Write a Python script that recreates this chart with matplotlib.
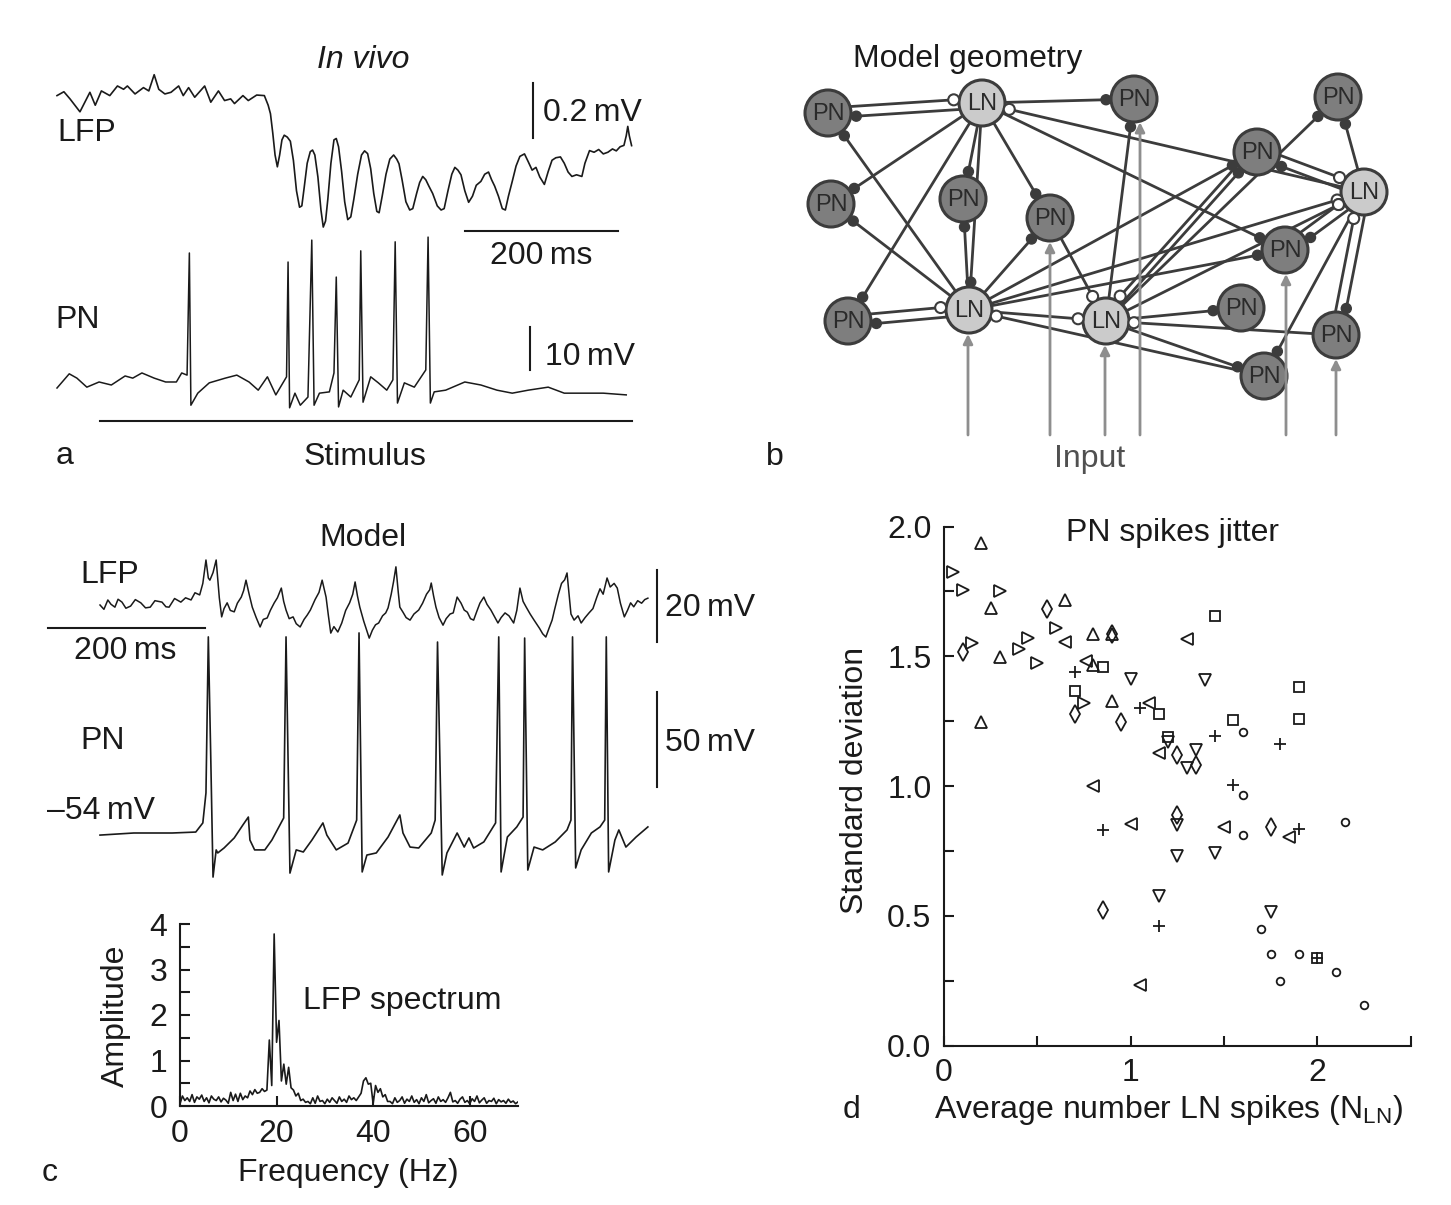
import numpy as np
import matplotlib
matplotlib.use("Agg")
import matplotlib.pyplot as plt
from matplotlib.patches import Circle

plt.rcParams["font.family"] = ["Liberation Sans", "DejaVu Sans"]
plt.rcParams["mathtext.fontset"] = "custom"
plt.rcParams["mathtext.rm"] = "Liberation Sans"
plt.rcParams["mathtext.it"] = "Liberation Sans:italic"

W, H = 1451, 1205
FS = 23
INK = "#1a1a1a"

# ---------------- panel a: in vivo traces (ms, mV)
vivo_lfp = [(0, 0.016), (9, 0.030), (17, 0.004), (30, -0.043), (43, 0.028), (50, -0.019),
            (58, 0.033), (69, 0.016), (79, 0.051), (87, 0.039), (92, 0.051), (102, 0.022),
            (113, 0.045), (120, 0.033), (127, 0.092), (133, 0.039), (141, 0.022), (149, 0.028),
            (159, 0.051), (165, 0.016), (172, 0.045), (180, 0.010), (193, 0.051), (201, -0.008),
            (211, 0.033), (219, -0.002), (227, 0.004), (232, -0.013), (243, 0.016), (250, -0.002),
            (261, 0.018), (271, 0.016), (276, -0.019), (279, -0.050), (282, -0.120), (285, -0.200),
            (288, -0.243), (291, -0.200), (294, -0.145), (297, -0.128), (301, -0.135), (305, -0.150),
            (309, -0.220), (313, -0.330), (317, -0.390), (320, -0.385), (323, -0.320), (327, -0.230),
            (331, -0.188), (334, -0.182), (337, -0.200), (341, -0.280), (345, -0.400), (348, -0.462),
            (351, -0.440), (354, -0.360), (358, -0.230), (362, -0.145), (365, -0.140), (368, -0.170),
            (372, -0.260), (376, -0.370), (380, -0.435), (384, -0.425), (388, -0.360), (393, -0.270),
            (398, -0.200), (402, -0.185), (406, -0.195), (410, -0.250), (414, -0.340), (418, -0.405),
            (421, -0.410), (425, -0.350), (430, -0.270), (435, -0.215), (440, -0.200), (444, -0.215),
            (447, -0.232), (451, -0.290), (456, -0.370), (461, -0.400), (465, -0.395), (470, -0.340),
            (474, -0.300), (478, -0.278), (482, -0.290), (486, -0.313), (491, -0.340), (497, -0.385),
            (502, -0.400), (506, -0.395), (511, -0.330), (516, -0.270), (520, -0.245), (524, -0.255),
            (528, -0.272), (533, -0.330), (538, -0.372), (543, -0.350), (548, -0.310), (554, -0.296),
            (559, -0.270), (564, -0.262), (568, -0.290), (572, -0.313), (577, -0.350), (582, -0.395),
            (586, -0.400), (590, -0.350), (595, -0.296), (600, -0.240), (605, -0.205), (611, -0.196),
            (616, -0.225), (621, -0.255), (626, -0.245), (631, -0.280), (637, -0.307), (642, -0.260),
            (647, -0.219), (652, -0.210), (658, -0.207), (663, -0.230), (668, -0.262), (673, -0.278),
            (679, -0.272), (686, -0.278), (690, -0.230), (696, -0.184), (702, -0.190), (708, -0.180),
            (714, -0.196), (720, -0.190), (726, -0.178), (731, -0.185), (736, -0.170), (741, -0.165),
            (744, -0.130), (746, -0.096), (748, -0.130), (751, -0.166)]

vivo_pn_t = [0, 16, 26, 39, 55, 71, 89, 99, 111, 127,
             142, 156, 163, 170, 173, 175, 184, 199, 220, 235,
             251, 263, 275, 286, 300, 302, 304, 311, 318, 328,
             333, 336, 343, 356, 362, 365, 368, 374, 384, 395,
             397, 400, 410, 420, 431, 439, 442, 445, 454, 467,
             482, 485, 488, 493, 508, 533, 554, 575, 595, 616,
             642, 663, 688, 714, 744]
vivo_pn_v = [-0.7, 2.6, 1.6, -0.5, 0.7, 0, 2.1, 1.6, 2.8, 1.6,
             0.7, 0.7, 2.8, 2.3, 30.7, -4.7, -1.9, 0.5, 1.6, 2.3,
             0.7, -1.2, 1.9, -2.3, 1.9, 28.6, -5.3, -1.9, -4.7, -2.8,
             33.7, -4.7, -1.9, -1.6, 2.8, 25.1, -5.1, -1.2, -2.8, 1.2,
             31.2, -4.0, 1.9, 0.5, -1.2, 1.2, 33.3, -4.2, 0.5, -0.5,
             3.5, 34.4, -4.2, -1.6, -1.2, 0.7, 0, -1.2, -1.9, -1.2,
             -0.5, -1.9, -1.9, -1.9, -2.3]
stimulus_ms = [56, 752]

# ---------------- panel c: model traces (ms, mV)
model_lfp = [(0, 0), (5, -1.2), (10, 1.4), (14, 0.2), (19, -0.6), (23, 1.6), (28, 0.8),
             (33, -0.9), (39, -0.3), (45, 1.5), (52, 0.6), (58, -0.8), (64, -0.6), (70, 1.2),
             (79, 0.8), (84, -0.5), (88, -0.6), (95, 1.8), (103, 0.8), (109, 2.0), (116, 1.4),
             (121, 3.4), (127, 2.8), (131, 6.0), (135, 12.5), (138, 7.5), (140, 6.9), (144, 9.0),
             (148, 12.5), (152, 2.0), (155, -3.3), (158, -1.0), (162, 0.6), (166, -1.5),
             (171, -1.9), (175, 0.5), (180, 2.2), (183, 4.0), (186, 6.9), (190, 3.0), (194, -0.6),
             (199, -3.5), (204, -6.1), (208, -4.0), (213, -3.6), (217, -1.5), (222, 0.6),
             (226, 2.0), (231, 4.7), (234, 1.0), (237, -1.4), (241, -3.8), (246, -3.3),
             (250, -5.2), (255, -6.1), (260, -4.0), (264, -2.8), (268, -1.4), (274, 1.5),
             (279, 3.5), (283, 6.9), (288, 2.2), (291, -3.0), (294, -7.8), (298, -6.0),
             (303, -7.5), (308, -5.0), (313, -1.5), (318, 0.6), (322, 3.0), (325, 6.4),
             (328, 2.5), (331, -0.6), (336, -4.5), (343, -9.2), (347, -7.0), (351, -5.5),
             (355, -5.0), (360, -3.0), (364, -2.2), (367, -0.8), (371, 3.0), (374, 6.5),
             (377, 10.6), (380, 3.5), (382, -0.6), (386, -2.0), (390, -3.5), (395, -4.2),
             (400, -2.5), (406, -1.4), (411, 0.5), (416, 3.0), (420, 4.2), (422, 6.1),
             (425, 2.5), (428, -0.6), (432, -3.5), (437, -5.6), (441, -3.8), (446, -2.5),
             (450, -2.2), (453, 0.5), (455, 2.2), (460, 0.5), (464, -1.4), (468, -2.0),
             (472, -3.8), (476, -4.2), (480, -1.8), (484, 0.5), (489, 2.2), (493, 0.2),
             (498, -1.4), (502, -3.0), (507, -5.0), (511, -3.5), (516, -2.2), (521, -3.0),
             (527, -5.0), (531, -1.5), (535, 4.7), (539, 1.0), (543, -0.6), (548, -2.5),
             (553, -4.2), (560, -6.5), (564, -8.0), (568, -8.9), (572, -6.5), (576, -4.2),
             (579, -1.4), (584, 3.0), (588, 6.0), (592, 7.0), (595, 8.9), (598, 2.0),
             (600, -2.5), (604, -4.2), (609, -3.0), (613, -5.0), (618, -3.5), (623, -2.2),
             (628, -1.0), (633, 2.2), (637, 4.5), (641, 3.0), (646, 7.5), (650, 5.0),
             (655, 6.0), (659, 4.7), (663, 0.5), (668, -3.3), (672, -1.5), (676, 0.6),
             (680, -0.5), (685, 1.2), (690, 0.5), (694, 1.5), (698, 1.9)]

model_pn_t = [0, 43, 92, 122, 131, 135, 138, 141, 144, 148,
              150, 158, 171, 182, 189, 191, 197, 210, 219, 234,
              237, 242, 250, 259, 270, 284, 289, 301, 316, 327,
              330, 334, 340, 352, 367, 382, 386, 395, 406, 422,
              427, 430, 436, 442, 455, 464, 470, 476, 489, 504,
              508, 511, 519, 531, 539, 541, 545, 553, 564, 580,
              595, 600, 602, 606, 613, 626, 637, 643, 645, 648,
              656, 661, 670, 683, 698]
model_pn_v = [-55.1, -54, -54, -53.5, -48.7, -32.9, 49.2, -11.9, -77.2, -62.9,
              -64.5, -61.9, -56.6, -49.8, -45.6, -57.7, -62.9, -62.9, -57.7, -46.1,
              49.2, -75.1, -62.9, -64, -57.7, -48.7, -55.1, -62.9, -59.3, -47.2,
              51.3, -74.5, -65.6, -64.5, -56.1, -44.5, -54, -61.4, -61.9, -54,
              -47.2, 46.5, -76.1, -64.5, -54, -61.4, -56.6, -61.9, -58.7, -48.7,
              49.2, -74.5, -56.1, -50.8, -45.6, 48.6, -73.5, -61.4, -62.9, -58.7,
              -52.4, -47.2, 49.2, -72.4, -62.9, -54, -50.8, -47.2, 49.2, -74.5,
              -57.7, -52.4, -61.4, -56.1, -50.8]

# LFP spectrum, 0.5 Hz bins from 0 to 70 Hz
spec_amp = ([0.05, 0.22, 0.12, 0.18, 0.10, 0.25, 0.08, 0.20, 0.15, 0.24, 0.10,
             0.18, 0.07, 0.22, 0.15, 0.12, 0.20, 0.09, 0.17, 0.13, 0.06]
            + [0.30, 0.12, 0.26, 0.10, 0.28, 0.14, 0.22, 0.18, 0.33, 0.25,
               0.36, 0.28, 0.30, 0.38, 0.32, 0.35]
            + [1.45, 0.45, 3.78, 1.40, 1.88, 0.55, 0.92, 0.48, 0.85, 0.40,
               0.35, 0.22, 0.28, 0.12, 0.15]
            + [0.08, 0.10, 0.05, 0.18, 0.06, 0.22, 0.10, 0.12, 0.05, 0.15, 0.08, 0.18,
               0.12, 0.06, 0.20, 0.10, 0.15, 0.08, 0.22, 0.14, 0.18, 0.12, 0.20, 0.28]
            + [0.55, 0.62, 0.48, 0.50, 0.05, 0.45, 0.30, 0.38, 0.20, 0.25, 0.10]
            + [0.10, 0.05, 0.18, 0.08, 0.12, 0.20, 0.06, 0.15, 0.10, 0.22,
               0.08, 0.14, 0.05, 0.18, 0.10, 0.25, 0.07, 0.12, 0.16, 0.06,
               0.20, 0.10, 0.14, 0.08, 0.18, 0.30, 0.09, 0.12, 0.06, 0.15,
               0.20, 0.08, 0.12, 0.05, 0.16, 0.10, 0.22, 0.07, 0.13, 0.18,
               0.06, 0.12, 0.10, 0.17, 0.05, 0.14, 0.09, 0.12, 0.06, 0.15,
               0.08, 0.11, 0.05, 0.09])
spec_freq = np.linspace(0, 70, len(spec_amp))

# ---------------- panel d: jitter vs LN spikes, one list pair per marker
up_x = [0.20, 0.25, 0.65, 0.80, 0.90, 0.30, 0.80, 0.90, 0.20]
up_y = [1.935, 1.685, 1.717, 1.585, 1.585, 1.498, 1.466, 1.329, 1.248]
right_x = [0.05, 0.10, 0.30, 0.60, 0.45, 0.15, 0.40, 0.50, 0.75]
right_y = [1.826, 1.755, 1.753, 1.610, 1.572, 1.552, 1.527, 1.475, 1.319]
left_x = [0.65, 1.30, 0.76, 1.10, 1.15, 0.80, 1.00, 1.50, 1.85, 1.05]
left_y = [1.556, 1.567, 1.483, 1.321, 1.129, 1.000, 0.854, 0.844, 0.803, 0.233]
down_x = [1.00, 1.40, 1.20, 1.35, 1.30, 1.25, 1.25, 1.45, 1.15, 1.75]
down_y = [1.411, 1.409, 1.171, 1.139, 1.069, 0.850, 0.731, 0.744, 0.578, 0.516]
diam_x = [0.55, 0.90, 0.10, 0.70, 0.95, 1.25, 1.35, 1.25, 1.75, 0.85]
diam_y = [1.682, 1.585, 1.518, 1.278, 1.247, 1.119, 1.081, 0.889, 0.841, 0.523]
sq_x = [1.45, 0.85, 1.90, 0.70, 1.15, 1.55, 1.90, 1.20, 2.00]
sq_y = [1.655, 1.460, 1.381, 1.365, 1.277, 1.255, 1.257, 1.188, 0.338]
plus_x = [0.70, 1.05, 1.45, 1.80, 1.55, 0.85, 1.90, 1.15, 2.00]
plus_y = [1.441, 1.302, 1.194, 1.161, 1.004, 0.831, 0.834, 0.461, 0.338]
circ_x = [1.60, 1.60, 1.60, 2.15, 1.70, 1.75, 1.90, 2.10, 1.80, 2.25]
circ_y = [1.207, 0.966, 0.812, 0.861, 0.448, 0.352, 0.353, 0.284, 0.248, 0.156]

# ---------------- panel b: network layout (panel units, y down)
node_x = [48, 202, 354, 558, 477, 584, 51, 183, 270, 505, 189, 326, 461, 556, 68, 484]
node_y = [73, 63, 59, 57, 112, 152, 164, 159, 178, 210, 270, 281, 268, 295, 281, 336]
node_kind = ["PN", "LN", "PN", "PN", "PN", "LN", "PN", "PN",
             "PN", "PN", "LN", "LN", "PN", "PN", "PN", "PN"]
# (source, target, synapse drawn at target: e=filled / i=open, side offset)
edges = [(0, 1, "i", -5), (1, 0, "e", 5), (1, 2, "e", 0), (10, 0, "e", 0),
         (1, 6, "e", 0), (10, 6, "e", 0), (1, 14, "e", 0), (1, 7, "e", 0),
         (10, 7, "e", 0), (1, 10, "e", 0), (1, 8, "e", 0), (5, 1, "i", 0),
         (1, 9, "e", 0), (10, 8, "e", 0), (8, 11, "i", 0), (11, 2, "e", 0),
         (14, 10, "i", 5), (10, 14, "e", -5), (10, 11, "i", 0), (10, 4, "e", 0),
         (10, 9, "e", 0), (10, 5, "i", 0), (15, 10, "i", 0), (11, 4, "e", 0),
         (4, 11, "i", 6), (11, 3, "e", 0), (11, 5, "i", 0), (11, 12, "e", 0),
         (13, 11, "i", 0), (11, 15, "e", 0), (4, 5, "i", -5), (5, 4, "e", 5),
         (5, 3, "e", 0), (5, 9, "e", -5), (9, 5, "i", 5), (5, 13, "e", -5),
         (13, 5, "i", 5), (5, 15, "e", 0)]
input_nodes = [10, 8, 11, 2, 9, 13]
input_x = [188, 270, 325, 360, 506, 556]

fig = plt.figure(figsize=(W / 100, H / 100), dpi=100)


def box(x0, y0, x1, y1):
    ax = fig.add_axes([x0 / W, 1 - y1 / H, (x1 - x0) / W, (y1 - y0) / H])
    ax.patch.set_visible(False)
    return ax


def ftext(px, py, s, ha="left", **kw):
    kw.setdefault("fontsize", FS)
    kw.setdefault("va", "baseline")
    kw.setdefault("color", INK)
    fig.text(px / W, 1 - py / H, s, ha=ha, **kw)


# ---- panel a
a_ms = lambda px: (px - 57) * 1.307
a_lfp = lambda py: (100 - py) / 275
a_pn = lambda py: (385 - py) / 4.3

vivo_lfp_t, vivo_lfp_v = zip(*vivo_lfp)
ax_al = box(40, 40, 660, 250)
ax_al.set_xlim(a_ms(40), a_ms(660))
ax_al.set_ylim(a_lfp(250), a_lfp(40))
ax_al.axis("off")
ax_al.plot(vivo_lfp_t, vivo_lfp_v, color=INK, lw=1.2)
ax_al.plot([622, 622], [0.062, 0.062 - 0.2], color=INK, lw=1.5)
ax_al.plot([533, 533 + 200], [-0.476, -0.476], color=INK, lw=1.5)

ax_ap = box(40, 220, 660, 440)
ax_ap.set_xlim(a_ms(40), a_ms(660))
ax_ap.set_ylim(a_pn(440), a_pn(220))
ax_ap.axis("off")
ax_ap.plot(vivo_pn_t, vivo_pn_v, color=INK, lw=1.1)
ax_ap.plot([618, 618], [13.5, 3.5], color=INK, lw=1.5)
ax_ap.plot(stimulus_ms, [-8.4, -8.4], color=INK, lw=1.5)

ftext(363, 68, "In vivo", ha="center", fontstyle="italic")
ftext(57, 141, "LFP")
ftext(543, 121, "0.2\u2009mV")
ftext(541, 264, "200\u2009ms", ha="center")
ftext(55, 328, "PN")
ftext(545, 365, "10\u2009mV")
ftext(365, 465, "Stimulus", ha="center")
ftext(65, 464, "a", ha="center")

# ---- panel b
ax_b = box(780, 40, 1450, 470)
ax_b.set_xlim(0, 670)
ax_b.set_ylim(430, 0)
ax_b.axis("off")
R = 23
LINE = "#3c3c3c"
nx = np.array(node_x, float)
ny = np.array(node_y, float)
for a, b, syn, off in edges:
    i, j = min(a, b), max(a, b)
    d = np.array([nx[j] - nx[i], ny[j] - ny[i]])
    d /= np.hypot(*d)
    perp = np.array([-d[1], d[0]]) * off
    u = np.array([nx[b] - nx[a], ny[b] - ny[a]])
    u /= np.hypot(*u)
    p0 = np.array([nx[a], ny[a]]) + perp + u * R
    p1 = np.array([nx[b], ny[b]]) + perp - u * (R + 5)
    ax_b.plot([p0[0], p1[0]], [p0[1], p1[1]], color=LINE, lw=2.0, zorder=1,
              solid_capstyle="round")
    if syn == "e":
        ax_b.add_patch(Circle(p1, 5, fc=LINE, ec=LINE, lw=1, zorder=3))
    else:
        ax_b.add_patch(Circle(p1, 5.5, fc="white", ec=LINE, lw=1.5, zorder=3))
for k, kind in enumerate(node_kind):
    fc = "#7e7e7e" if kind == "PN" else "#cbcbcb"
    ax_b.add_patch(Circle((nx[k], ny[k]), R, fc=fc, ec="#3c3c3c", lw=2.2, zorder=2))
    ax_b.text(nx[k], ny[k] + 1, kind, ha="center", va="center", fontsize=17,
              color="#2a2a2a", zorder=4)
for k, x in zip(input_nodes, input_x):
    tip = ny[k] + np.sqrt(max(R ** 2 - (x - nx[k]) ** 2, 0)) + 1
    ax_b.annotate("", xy=(x, tip), xytext=(x, 395),
                  arrowprops=dict(arrowstyle="-|>", color="#8e8e8e", lw=2.0,
                                  mutation_scale=14, shrinkA=0, shrinkB=0), zorder=5)
ftext(968, 67, "Model geometry", ha="center")
ftext(1090, 467, "Input", ha="center", color="#505050")
ftext(775, 465, "b", ha="center")

# ---- panel c traces
c_ms = lambda px: (px - 100) * 1.274
c_lfp = lambda py: (605 - py) / 3.6
c_pn = lambda py: -54 + (833 - py) / 1.9

model_lfp_t, model_lfp_v = zip(*model_lfp)
ax_cl = box(40, 530, 720, 660)
ax_cl.set_xlim(c_ms(40), c_ms(720))
ax_cl.set_ylim(c_lfp(660), c_lfp(530))
ax_cl.axis("off")
ax_cl.plot(model_lfp_t, model_lfp_v, color=INK, lw=1.1)
ax_cl.plot([-66, -66 + 200], [-6.4, -6.4], color=INK, lw=1.5)
ax_cl.plot([710, 710], [9.7, 9.7 - 20], color=INK, lw=1.5)

ax_cp = box(40, 620, 720, 900)
ax_cp.set_xlim(c_ms(40), c_ms(720))
ax_cp.set_ylim(c_pn(900), c_pn(620))
ax_cp.axis("off")
ax_cp.plot(model_pn_t, model_pn_v, color=INK, lw=1.2)
ax_cp.plot([710, 710], [20, 20 - 50], color=INK, lw=1.5)

ftext(363, 546, "Model", ha="center")
ftext(80, 583, "LFP")
ftext(125, 659, "200\u2009ms", ha="center")
ftext(665, 616, "20\u2009mV")
ftext(80, 749, "PN")
ftext(665, 751, "50\u2009mV")
ftext(47, 819, "\u201354\u2009mV")

# ---- panel c spectrum
ax_s = box(180, 924, 518, 1106)
ax_s.plot(spec_freq, spec_amp, color=INK, lw=1.2)
ax_s.set_xlim(0, 70)
ax_s.set_ylim(0, 4)
ax_s.set_xticks([0, 20, 40, 60])
ax_s.set_yticks([0, 1, 2, 3, 4])
ax_s.set_yticks([0.5, 1.5, 2.5, 3.5], minor=True)
for sp in ("top", "right"):
    ax_s.spines[sp].set_visible(False)
for sp in ("left", "bottom"):
    ax_s.spines[sp].set_linewidth(1.5)
    ax_s.spines[sp].set_color(INK)
ax_s.tick_params(which="both", direction="in", length=7, width=1.5,
                 labelsize=FS, colors=INK, pad=9)
ftext(303, 1009, "LFP spectrum")
fig.text(116 / W, 1 - 1016 / H, "Amplitude", rotation=90, ha="center",
         va="center", fontsize=FS, color=INK)
ftext(348, 1181, "Frequency (Hz)", ha="center")
ftext(50, 1181, "c", ha="center")

# ---- panel d
ax_d = box(944, 526.5, 1410.5, 1045.7)
marker_sets = [("^", up_x, up_y, 8), (">", right_x, right_y, 8),
               ("<", left_x, left_y, 8), ("v", down_x, down_y, 8),
               ("d", diam_x, diam_y, 9), ("s", sq_x, sq_y, 6.5),
               ("+", plus_x, plus_y, 8), ("o", circ_x, circ_y, 5.5)]
for m, xs, ys, ms in marker_sets:
    ax_d.plot(xs, ys, linestyle="none", marker=m, ms=ms, mfc="none",
              mec=INK, mew=1.3)
ax_d.set_xlim(0, 2.5)
ax_d.set_ylim(0, 2.0)
ax_d.set_xticks([0, 1, 2])
ax_d.set_xticks([0.5, 1.5, 2.5], minor=True)
ax_d.set_yticks([0, 0.5, 1.0, 1.5, 2.0])
ax_d.set_yticklabels(["0.0", "0.5", "1.0", "1.5", "2.0"])
ax_d.set_yticks([0.25, 0.75, 1.25, 1.75], minor=True)
for sp in ("top", "right"):
    ax_d.spines[sp].set_visible(False)
for sp in ("left", "bottom"):
    ax_d.spines[sp].set_linewidth(1.5)
    ax_d.spines[sp].set_color(INK)
ax_d.tick_params(which="both", direction="in", length=7, width=1.5,
                 labelsize=FS, colors=INK, pad=9)
ftext(1172, 541, "PN spikes jitter", ha="center")
fig.text(855 / W, 1 - 780 / H, "Standard deviation", rotation=90, ha="center",
         va="center", fontsize=FS, color=INK)
ftext(934, 1118, r"Average number LN spikes (N$_{\mathregular{LN}}$)")
ftext(852, 1118, "d", ha="center")

fig.savefig("out.png", dpi=100)
